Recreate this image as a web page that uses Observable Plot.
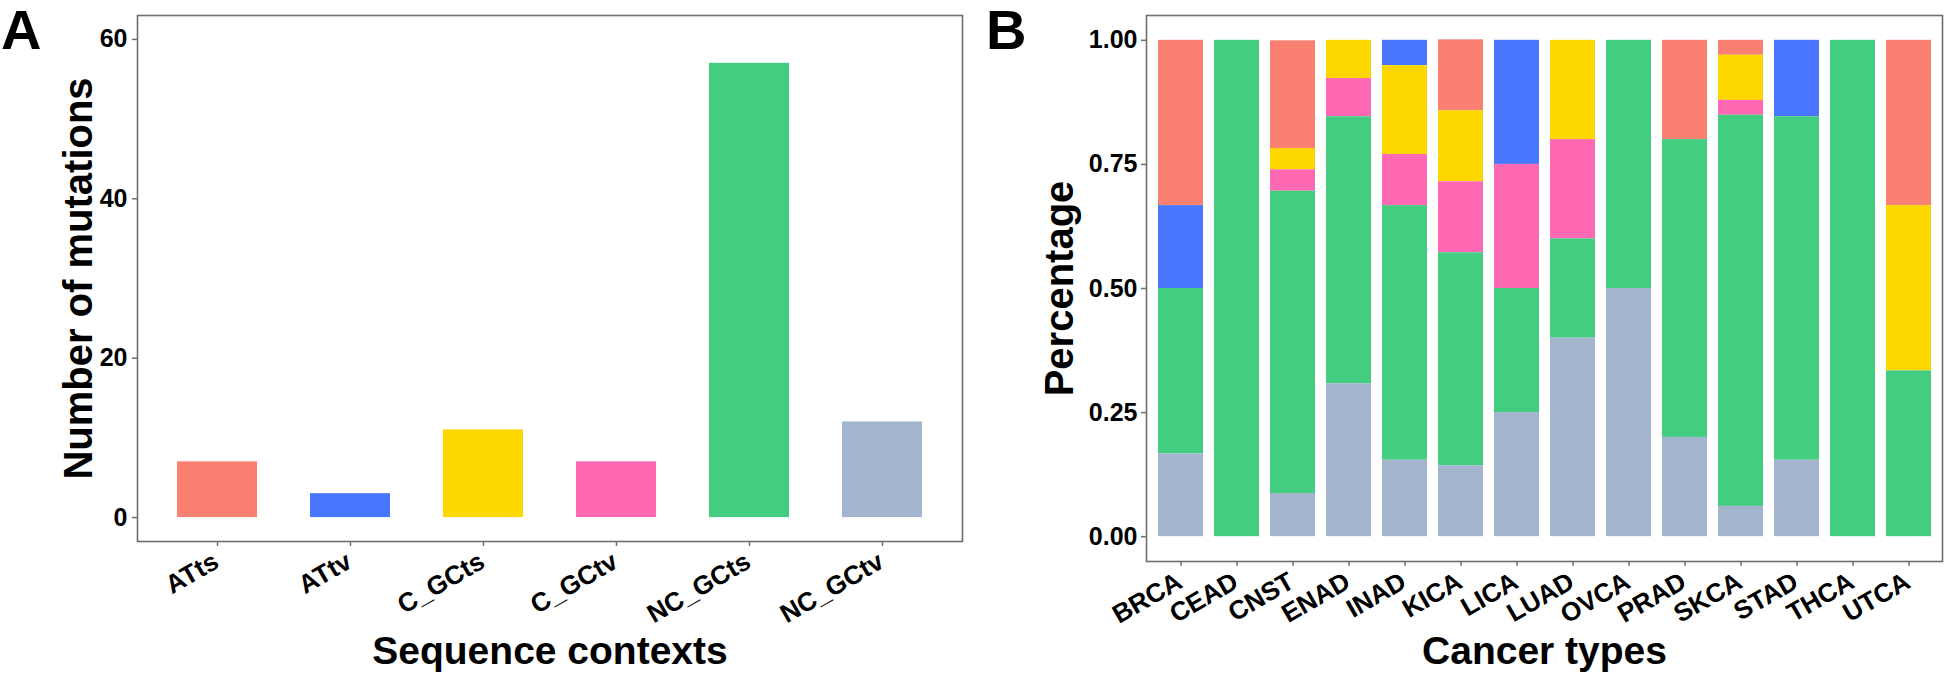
<!DOCTYPE html>
<html>
<head>
<meta charset="utf-8">
<script src="https://cdn.jsdelivr.net/npm/d3@7"></script>
<script src="https://cdn.jsdelivr.net/npm/@observablehq/plot@0.6"></script>
<style>
  html, body { margin: 0; padding: 0; background: #fff; }
  #fig { position: relative; width: 1946px; height: 674px; font-family: "Liberation Sans", Arial, sans-serif; }
  #fig > div.panel { position: absolute; top: 0; }
  .letter { position: absolute; display: block; font-weight: bold; font-size: 56px; line-height: 60px; height: 60px; color: #000; }
</style>
</head>
<body>
<div id="fig">
  <div class="panel" id="pa" style="left:0px"></div>
  <div class="panel" id="pb" style="left:980px"></div>
  <div class="letter" style="left:1px; top:0px">A</div>
  <div class="letter" style="left:986px; top:0px">B</div>
</div>
<script>
// ---------- data ----------
const contexts = ["ATts", "ATtv", "C_GCts", "C_GCtv", "NC_GCts", "NC_GCtv"];
const mutationCounts = [7, 3, 11, 7, 57, 12];
const contextColors = ["#FA8072", "#4876FF", "#FFD700", "#FF69B4", "#43CD80", "#A2B5CD"];
const countTicks = [0, 20, 40, 60];

const cancerTypes = ["BRCA", "CEAD", "CNST", "ENAD", "INAD", "KICA", "LICA", "LUAD", "OVCA", "PRAD", "SKCA", "STAD", "THCA", "UTCA"];
const shareATts    = [0.333, 0, 0.217, 0,     0,     0.143, 0,    0,   0,   0.2, 0.030, 0,     0, 0.333];
const shareATtv    = [0.167, 0, 0,     0,     0.051, 0,     0.25, 0,   0,   0,   0,     0.154, 0, 0];
const shareC_GCts  = [0,     0, 0.043, 0.077, 0.179, 0.143, 0,    0.2, 0,   0,   0.091, 0,     0, 0.333];
const shareC_GCtv  = [0,     0, 0.043, 0.077, 0.103, 0.143, 0.25, 0.2, 0,   0,   0.030, 0,     0, 0];
const shareNC_GCts = [0.333, 1, 0.609, 0.538, 0.513, 0.429, 0.25, 0.2, 0.5, 0.6, 0.788, 0.692, 1, 0.334];
const shareNC_GCtv = [0.167, 0, 0.087, 0.308, 0.154, 0.143, 0.25, 0.4, 0.5, 0.2, 0.061, 0.154, 0, 0];
const shareTicks = [0, 0.25, 0.5, 0.75, 1];
const stackOrder = ["NC_GCtv", "NC_GCts", "C_GCtv", "C_GCts", "ATtv", "ATts"];

// ---------- tables ----------
const countTable = contexts.map((c, i) => ({context: c, count: mutationCounts[i]}));
const shareSeries = {ATts: shareATts, ATtv: shareATtv, C_GCts: shareC_GCts, C_GCtv: shareC_GCtv, NC_GCts: shareNC_GCts, NC_GCtv: shareNC_GCtv};
const shareTable = [];
for (const c of contexts) cancerTypes.forEach((t, i) => shareTable.push({cancer: t, context: c, share: shareSeries[c][i]}));

const FONT = "Liberation Sans, Arial, sans-serif";
const tickGray = "#6f6f6f";
const colorScale = {domain: contexts, range: contextColors};

// ---------- panel A ----------
const plotA = Plot.plot({
  width: 975, height: 674,
  marginLeft: 137, marginRight: 13, marginTop: 15, marginBottom: 133,
  style: {fontFamily: FONT, background: "white", overflow: "visible"},
  x: {domain: contexts, paddingInner: 0.4, paddingOuter: 0.3, axis: null},
  y: {domain: [-3, 63], axis: null},
  color: colorScale,
  marks: [
    Plot.barY(countTable, {x: "context", y: "count", fill: "context"}),
    Plot.frame({stroke: tickGray, strokeWidth: 1.6}),
    Plot.axisY({ticks: countTicks, tickSize: 5, tickPadding: 5, stroke: tickGray, strokeWidth: 1.5, fill: "black", fontSize: 25, fontWeight: "bold", label: null}),
    Plot.axisX({tickSize: 5, stroke: tickGray, strokeWidth: 1.5, tickFormat: () => "", label: null}),
    Plot.text(contexts, {x: d => d, frameAnchor: "bottom", dx: 3, dy: 25, rotate: -30, textAnchor: "end", lineAnchor: "bottom", fontSize: 26, fontWeight: "bold", fill: "black"}),
    Plot.text(["Sequence contexts"], {frameAnchor: "bottom", dy: 122, textAnchor: "middle", lineAnchor: "bottom", fontSize: 39, fontWeight: "bold", fill: "black"}),
    Plot.text(["Number of mutations"], {frameAnchor: "left", dx: -46, rotate: -90, textAnchor: "middle", lineAnchor: "bottom", fontSize: 40, fontWeight: "bold", fill: "black"})
  ]
});
document.getElementById("pa").appendChild(plotA);

// ---------- panel B ----------
const plotB = Plot.plot({
  width: 966, height: 674,
  marginLeft: 166, marginRight: 4, marginTop: 15, marginBottom: 113,
  style: {fontFamily: FONT, background: "white", overflow: "visible"},
  x: {domain: cancerTypes, paddingInner: 0.2, paddingOuter: 0.2, axis: null},
  y: {domain: [-0.05, 1.05], axis: null},
  color: colorScale,
  marks: [
    Plot.barY(shareTable, {x: "cancer", y: "share", fill: "context", z: "context", order: stackOrder}),
    Plot.frame({stroke: tickGray, strokeWidth: 1.6}),
    Plot.axisY({ticks: shareTicks, tickFormat: d3.format(".2f"), tickSize: 5, tickPadding: 4, stroke: tickGray, strokeWidth: 1.5, fill: "black", fontSize: 25, fontWeight: "bold", label: null}),
    Plot.axisX({tickSize: 5, stroke: tickGray, strokeWidth: 1.5, tickFormat: () => "", label: null}),
    Plot.text(cancerTypes, {x: d => d, frameAnchor: "bottom", dx: 3, dy: 25, rotate: -30, textAnchor: "end", lineAnchor: "bottom", fontSize: 26, fontWeight: "bold", fill: "black"}),
    Plot.text(["Cancer types"], {frameAnchor: "bottom", dy: 102, textAnchor: "middle", lineAnchor: "bottom", fontSize: 39, fontWeight: "bold", fill: "black"}),
    Plot.text(["Percentage"], {frameAnchor: "left", dx: -74, rotate: -90, textAnchor: "middle", lineAnchor: "bottom", fontSize: 40, fontWeight: "bold", fill: "black"})
  ]
});
document.getElementById("pb").appendChild(plotB);
</script>
</body>
</html>
